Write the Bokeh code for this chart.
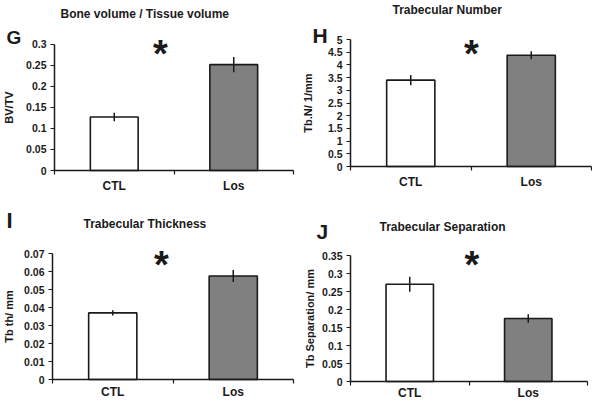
from bokeh.plotting import figure
from bokeh.layouts import column, row
from bokeh.models import Range1d, FixedTicker, NumeralTickFormatter, Label
from bokeh.embed import file_html
from bokeh.resources import INLINE

# ---------------- data ----------------
groups = ["CTL", "Los"]
bar_colors = ["#ffffff", "#808080"]

bvtv_mean = [0.127, 0.251]
bvtv_err = [0.010, 0.018]
bvtv_ticks = [0, 0.05, 0.1, 0.15, 0.2, 0.25, 0.3]

tbn_mean = [3.40, 4.38]
tbn_err = [0.20, 0.16]
tbn_ticks = [0, 0.5, 1, 1.5, 2, 2.5, 3, 3.5, 4, 4.5, 5]

tbth_mean = [0.037, 0.0575]
tbth_err = [0.0015, 0.0033]
tbth_ticks = [0, 0.01, 0.02, 0.03, 0.04, 0.05, 0.06, 0.07]

tbsp_mean = [0.270, 0.175]
tbsp_err = [0.021, 0.012]
tbsp_ticks = [0, 0.05, 0.1, 0.15, 0.2, 0.25, 0.3, 0.35]

# ---------------- style / layout ----------------
FONT = "Liberation Sans"
INK = "#1a1a1a"


def panel(letter, title, ylabel, means, errs, ticks, fmt, box, axes, txt, ylab_sd, xlab):
    ox, oy, W, H = box                 # figure placement on the page
    ax0, ax1, ay0, ay1 = axes          # page pixels of x=0, x=n, y=0, y=max
    n = len(groups)
    ymax = ticks[-1]
    kx = (ax1 - ax0) / n
    ky = (ay0 - ay1) / ymax
    p = figure(width=W, height=H, output_backend="svg", toolbar_location=None,
               x_range=Range1d((ox - ax0) / kx, (ox + W - ax0) / kx),
               y_range=Range1d(-(oy + H - ay0) / ky, (ay0 - oy) / ky),
               min_border_left=0, min_border_right=0, min_border_top=0,
               min_border_bottom=0)
    p.outline_line_color = None
    p.xgrid.grid_line_color = None
    p.ygrid.grid_line_color = None
    p.background_fill_color = "white"
    p.border_fill_color = "white"

    xs = [k + 0.5 for k in range(n)]
    p.vbar(x=xs, top=means, bottom=0, width=0.4, fill_color=bar_colors,
           line_color=INK, line_width=1.6)
    p.segment(x0=xs, x1=xs, y0=[m - e for m, e in zip(means, errs)],
              y1=[m + e for m, e in zip(means, errs)], line_color=INK, line_width=1.5)

    # x axis: ticks between the categories, names under the bars
    tick_out, lab_sd = xlab
    xa = p.xaxis[0]
    xa.fixed_location = 0
    xa.bounds = (0, n)
    xa.ticker = FixedTicker(ticks=xs, minor_ticks=list(range(n + 1)))
    xa.major_label_overrides = {x: g for x, g in zip(xs, groups)}
    xa.major_tick_line_color = None
    xa.major_tick_out = tick_out
    xa.major_tick_in = 0
    xa.minor_tick_line_color = INK
    xa.minor_tick_out = 4
    xa.minor_tick_in = 0
    xa.minor_tick_line_width = 1.2
    xa.major_label_standoff = lab_sd
    xa.major_label_text_font = FONT
    xa.major_label_text_font_style = "bold"
    xa.major_label_text_font_size = "12px"
    xa.major_label_text_color = INK
    xa.axis_line_color = INK
    xa.axis_line_width = 1.5

    ya = p.yaxis[0]
    ya.fixed_location = 0
    ya.bounds = (0, ymax)
    ya.ticker = FixedTicker(ticks=ticks)
    ya.formatter = NumeralTickFormatter(format=fmt)
    ya.major_tick_out = 4
    ya.major_tick_in = 0
    ya.major_tick_line_color = INK
    ya.major_tick_line_width = 1.2
    ya.minor_tick_line_color = None
    ya.major_label_standoff = 4
    ya.major_label_text_font = FONT
    ya.major_label_text_font_style = "bold"
    ya.major_label_text_font_size = "10.5px"
    ya.major_label_text_color = INK
    ya.axis_line_color = INK
    ya.axis_line_width = 1.5
    ya.axis_label = ylabel
    ya.axis_label_text_font = FONT
    ya.axis_label_text_font_style = "bold"
    ya.axis_label_text_font_size = "11px"
    ya.axis_label_text_color = INK
    ya.axis_label_standoff = ylab_sd

    (tx, ty), (lx, ly, lsize), (sx, sy) = txt

    def put(text, x, y, size, align="left", baseline="alphabetic"):
        p.add_layout(Label(x=x - ox, y=oy + H - y, x_units="screen", y_units="screen",
                           text=text, text_align=align, text_baseline=baseline,
                           text_font=FONT, text_font_style="bold",
                           text_font_size=size, text_color=INK))

    put(title, tx, ty, "12px")
    put(letter, lx, ly, lsize)
    put("*", sx, sy + 6, "38px", align="center", baseline="middle")
    return p


g = panel("G", "Bone volume / Tissue volume", "BV/TV", bvtv_mean, bvtv_err, bvtv_ticks,
          "0.[00]", (0, 0, 296, 201), (54, 293, 170, 43.5),
          ((60, 13), (6, 37, "19px"), (160, 47.5)), 8, (4, 4))
h = panel("H", "Trabecular Number", "Tb.N/ 1/mm", tbn_mean, tbn_err, tbn_ticks,
          "0.[0]", (296, 0, 296, 201), (350, 591, 166, 39),
          ((392, 9.5), (312, 35, "21px"), (471, 47)), 11, (4, 4))
i = panel("I", "Trabecular Thickness", "Tb th/ mm", tbth_mean, tbth_err, tbth_ticks,
          "0.[00]", (0, 201, 296, 197), (52, 293, 379, 253),
          ((83, 223), (6, 219.5, "22px"), (161, 258)), 6, (2, 1))
j = panel("J", "Trabecular Separation", "Tb Separation/ mm", tbsp_mean, tbsp_err, tbsp_ticks,
          "0.[00]", (296, 201, 296, 197), (350, 587, 381, 255),
          ((379, 226.5), (316, 230.5, "21px"), (471.5, 258)), 3, (2, 0))

layout = column(row(g, h), row(i, j))
open("out.html", "w").write(file_html(layout, INLINE))
